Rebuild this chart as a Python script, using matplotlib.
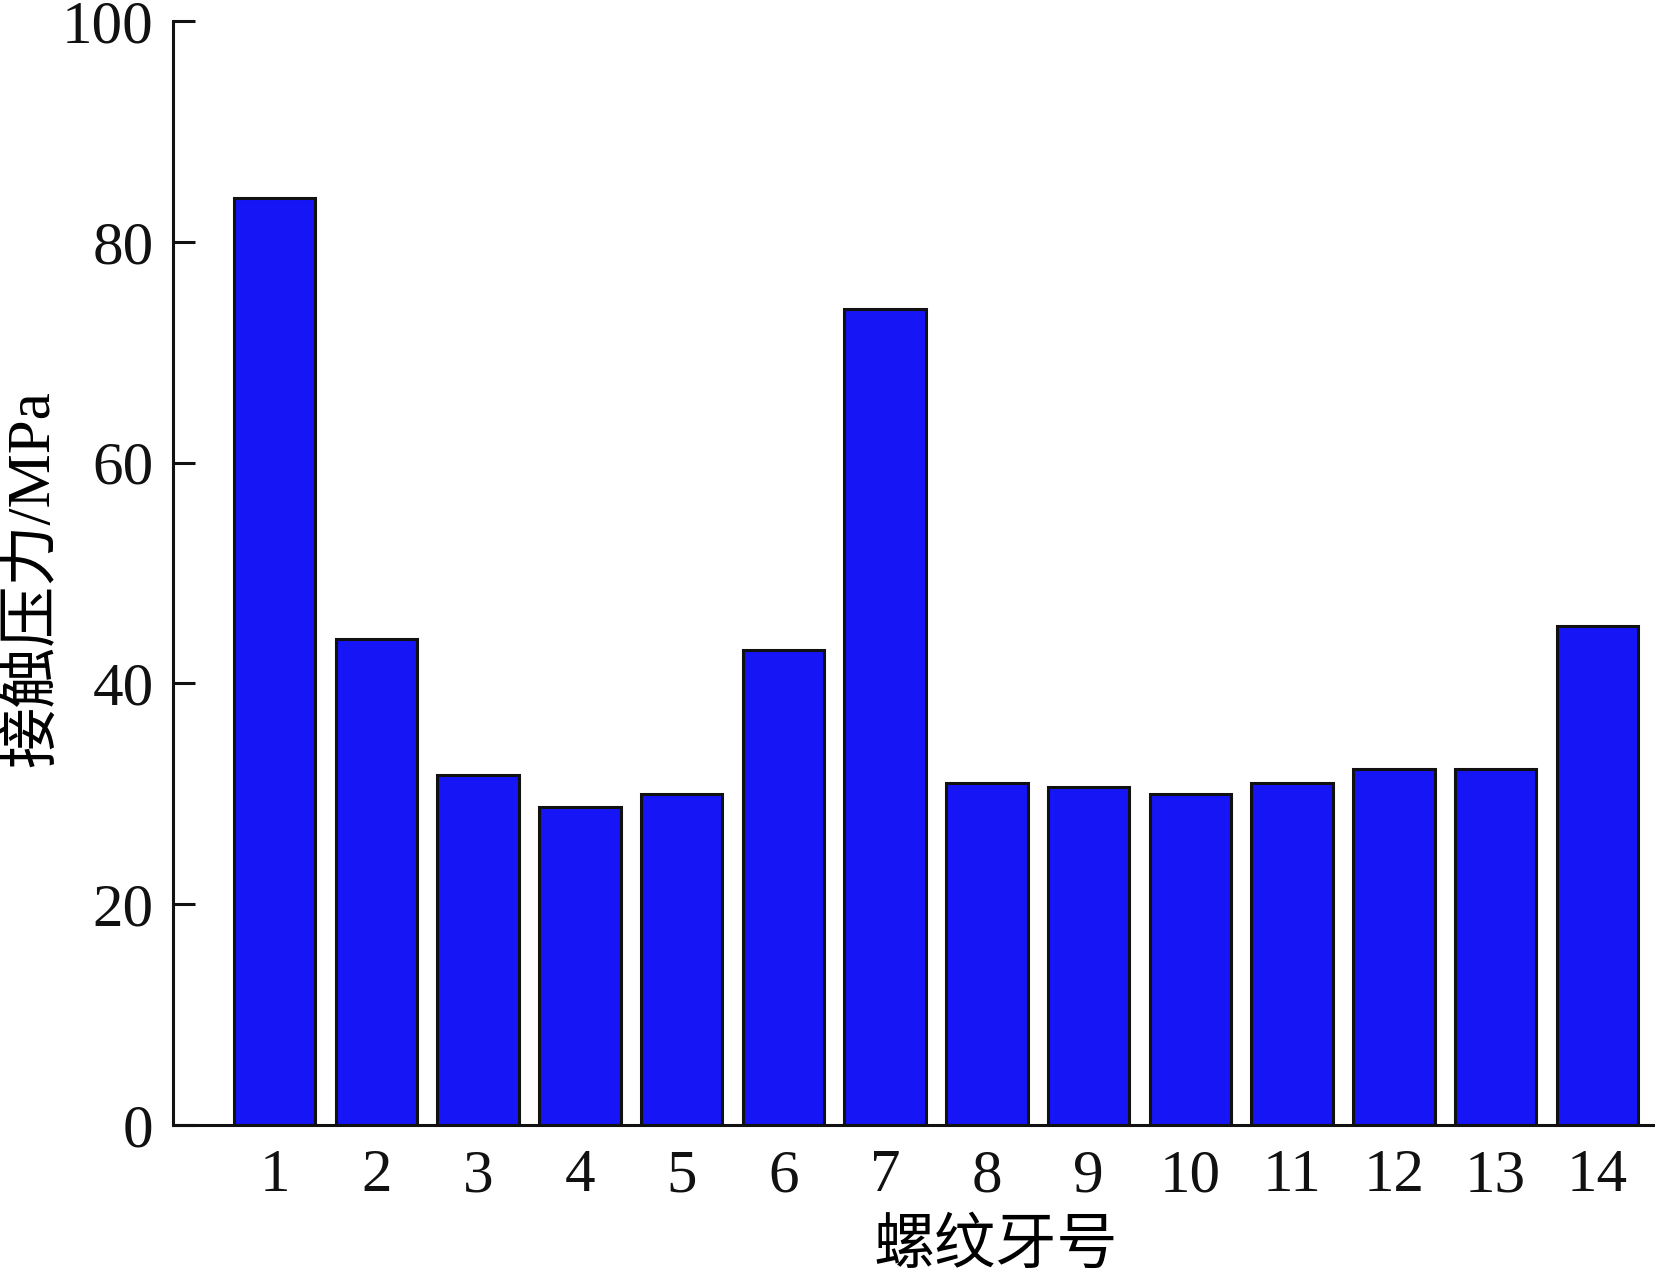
import numpy as np
import matplotlib.pyplot as plt

plt.rcParams['font.family'] = ['Liberation Serif', 'Noto Sans CJK SC']

teeth = np.arange(1, 15)
tick_labels = [str(i) for i in teeth]
pressure = [84.0, 44.0, 31.7, 28.8, 30.0, 43.0, 73.9,
            31.0, 30.6, 30.0, 31.0, 32.2, 32.2, 45.2]

fig = plt.figure(figsize=(16.55, 12.74), dpi=100)
ax = fig.add_axes([0.1045, 0.117, 0.8945, 0.8665])

ax.bar(teeth, pressure, width=0.8, color='#1515f5',
       edgecolor='#111111', linewidth=2.2)

ax.set_xlim(0, 14.55)
ax.set_ylim(0, 100)
ax.set_yticks([0, 20, 40, 60, 80, 100])
ax.set_xticks(teeth)
ax.set_xticklabels(tick_labels)

for s in ['top', 'right']:
    ax.spines[s].set_visible(False)
for s in ['left', 'bottom']:
    ax.spines[s].set_linewidth(2.2)
    ax.spines[s].set_color('#111111')

ax.tick_params(axis='y', direction='in', length=16, width=2.2,
               labelsize=44, pad=14, colors='#111111')
ax.tick_params(axis='x', length=0, labelsize=44, pad=17, colors='#111111')

ax.set_ylabel('接触压力/MPa', fontsize=44, va='center')
ax.set_xlabel('螺纹牙号', fontsize=44, va='center')
ax.yaxis.set_label_coords(-0.095, 0.495)
ax.xaxis.set_label_coords(0.556, -0.111)

fig.savefig('out.png', dpi=100)
